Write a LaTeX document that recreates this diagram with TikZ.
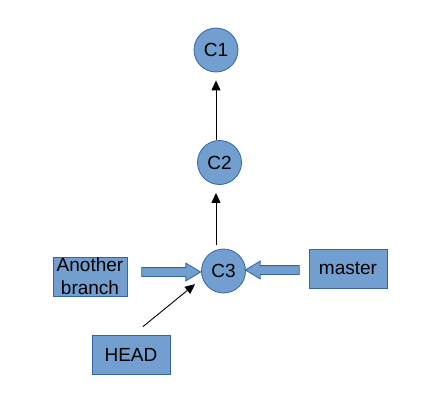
\documentclass[tikz,border=0pt]{standalone}
\usepackage{fontspec}
\setmainfont{Liberation Sans}
\usetikzlibrary{shapes}
\usetikzlibrary{arrows.meta}
\definecolor{boxfill}{HTML}{729FCF}
\definecolor{boxline}{HTML}{3465A4}
\tikzset{
	gitnode/.style = {
		align=center,
		inner sep=0pt,
		text centered,
		font=\fontsize{19}{23.3}\selectfont,
		fill=boxfill,
		draw=boxline,
		line width=0.8pt
	},
	node_commit/.style = {
		gitnode,
		circle,
		minimum size=44pt
	},
	node_ref/.style = {
		gitnode,
		rectangle,
		minimum width=78pt,
		minimum height=39pt
	},
	node_pointer/.style = {
		gitnode,
		single arrow,
		single arrow head extend=4.5pt,
		single arrow tip angle=62,
		inner xsep=0pt,
		inner ysep=4pt,
		minimum width=0pt
	},
	edge/.style = {
		line width=0.9pt
	},
}

\begin{document}
\begin{tikzpicture}[->,>={Triangle[length=10pt,width=9pt]}, x=1pt, y=-1pt]
\useasboundingbox (0,0) rectangle (442,402);
% commits
\node [node_commit] (c1) at (216,50) {C1};
\node [node_commit] (c2) at (219.5,162.5) {C2};
\node [node_commit] (c3) at (223.5,271) {C3};
% refs
\node [node_ref, minimum width=74pt] (other) at (90,276.5) {Another\\branch};
\node [node_ref] (master) at (348,268.5) {master};
\node [node_ref] (head) at (131,354.5) {HEAD};
% block arrows
\node [node_pointer, minimum height=59pt] (p_other) at (167.5,272) {};
\node [node_pointer, minimum height=54pt, shape border rotate=180] (p_master) at (276,270) {};
% history
\coordinate (c3_top) at ([yshift=4pt]c3.north);
\coordinate (c2_low) at ([yshift=-8pt]c2.south);
\draw [edge] (c2.north -| c1) -- ([yshift=-8pt]c1.south);
\draw [edge] (c3_top -| c1) -- (c2_low -| c1);
\draw [edge] ([shift={(12pt,8pt)}]head.north) -- ([shift={(-8pt,-4pt)}]c3.204);
\end{tikzpicture}
\end{document}
